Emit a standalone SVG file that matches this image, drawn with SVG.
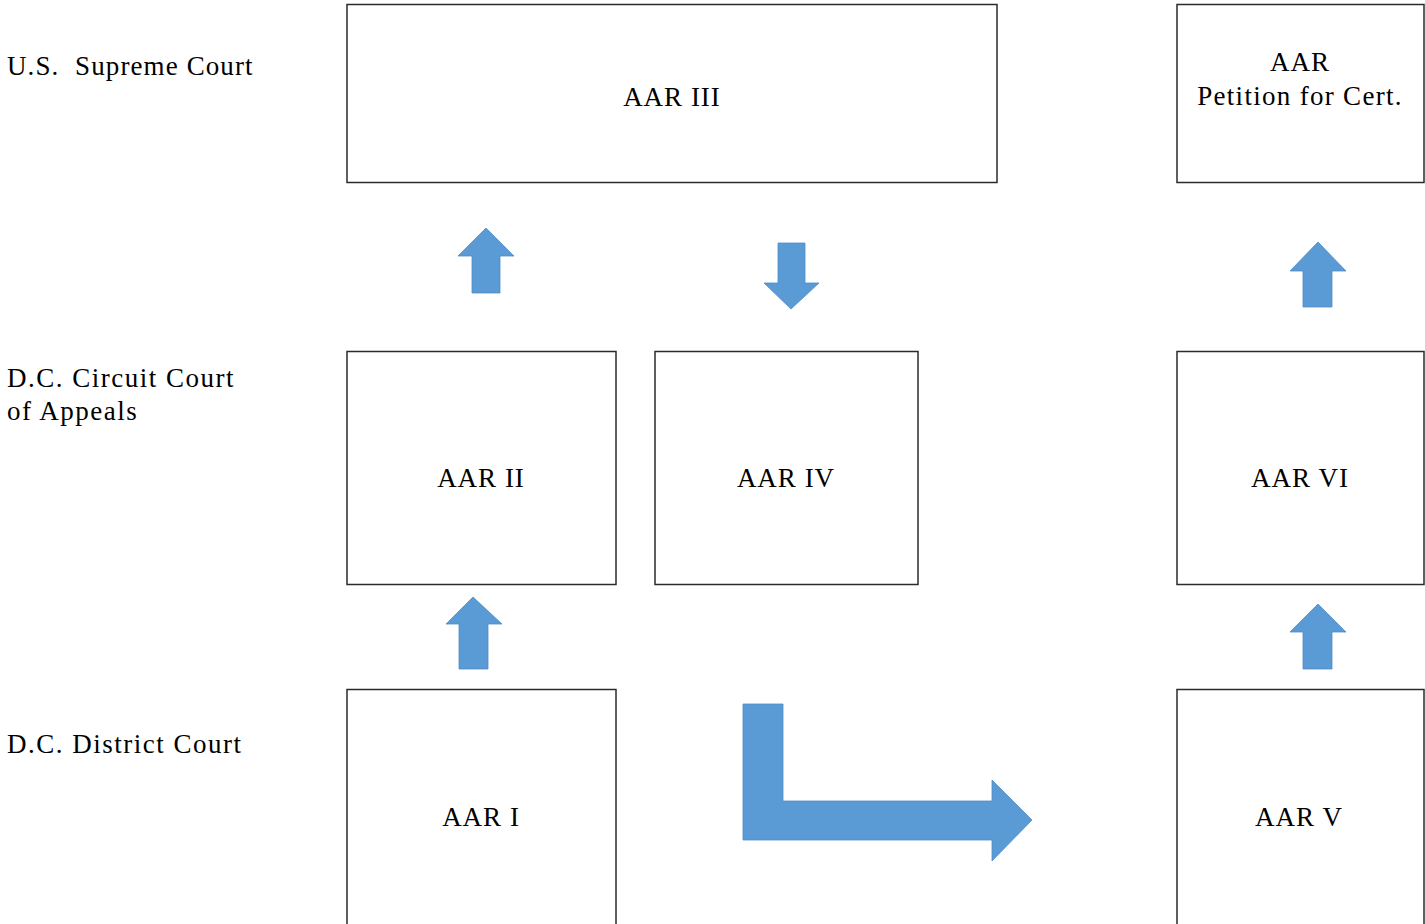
<svg xmlns="http://www.w3.org/2000/svg" width="1425" height="924" viewBox="0 0 1425 924">
<style>
.box{fill:#ffffff;stroke:#2b2b2b;stroke-width:1.5}
.t{font-family:"Liberation Serif","Times New Roman",serif;font-size:27px;fill:#000;letter-spacing:1px}
.l{letter-spacing:1.5px;white-space:pre}
.c{text-anchor:middle}
.arr{fill:#5b9bd5;stroke:#4f8cc6;stroke-width:0.8}
</style>
<rect width="1425" height="924" fill="#ffffff"/>
<g id="labels">
<text class="t l" x="7" y="75" xml:space="preserve" style="letter-spacing:1.1px">U.S.  Supreme Court</text>
<text class="t l" x="7" y="387">D.C. Circuit Court</text>
<text class="t l" x="7" y="420">of Appeals</text>
<text class="t l" x="7" y="753">D.C. District Court</text>
</g>
<g id="aar3"><rect class="box" x="347" y="4.5" width="650" height="178"/><text class="t c" x="672" y="106">AAR III</text></g>
<g id="cert"><rect class="box" x="1177" y="4.5" width="247" height="178"/><text class="t c" x="1300" y="71">AAR</text><text class="t c" x="1300" y="105" style="letter-spacing:1.3px">Petition for Cert.</text></g>
<g id="aar2"><rect class="box" x="347" y="351.5" width="269" height="233"/><text class="t c" x="481" y="487">AAR II</text></g>
<g id="aar4"><rect class="box" x="655" y="351.5" width="263" height="233"/><text class="t c" x="786" y="487">AAR IV</text></g>
<g id="aar6"><rect class="box" x="1177" y="351.5" width="247" height="233"/><text class="t c" x="1300" y="487">AAR VI</text></g>
<g id="aar1"><rect class="box" x="347" y="689.5" width="269" height="240"/><text class="t c" x="481" y="826">AAR I</text></g>
<g id="aar5"><rect class="box" x="1177" y="689.5" width="247" height="240"/><text class="t c" x="1299" y="826">AAR V</text></g>
<g id="connectors">
<polygon class="arr" points="486,228 514,256 500,256 500,293 472,293 472,256 458,256"/>
<polygon class="arr" points="778,243 805,243 805,283 819,283 791,309 764,283 778,283"/>
<polygon class="arr" points="1318,242 1346,271 1332,271 1332,307 1303,307 1303,271 1290,271"/>
<polygon class="arr" points="473,597 502,624 488,624 488,669 459,669 459,624 446,624"/>
<polygon class="arr" points="1318,604 1346,632 1332,632 1332,669 1303,669 1303,632 1290,632"/>
<polygon class="arr" points="743,704 783,704 783,801 992,801 992,780 1032,820 992,861 992,840 743,840"/>
</g>
</svg>
